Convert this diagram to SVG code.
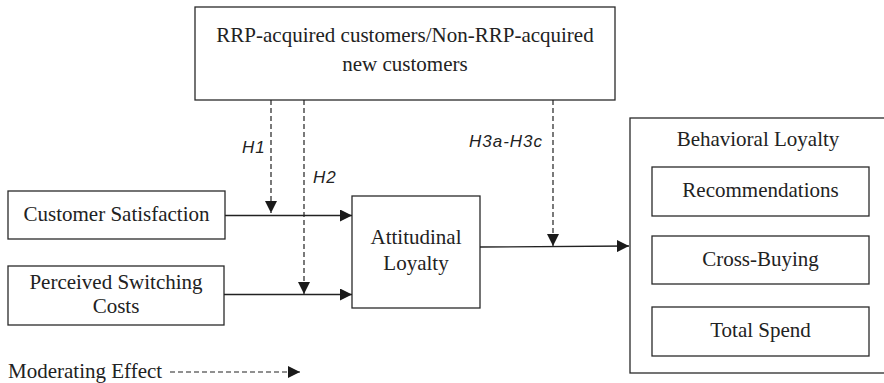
<svg xmlns="http://www.w3.org/2000/svg" width="884" height="383" viewBox="0 0 884 383">
<style>
.box{fill:#fff;stroke:#2a2a2a;stroke-width:1.3}
.t{font-family:"Liberation Serif","Times New Roman",serif;font-size:21px;fill:#222;text-anchor:middle}
.h{font-family:"Liberation Sans",Arial,sans-serif;font-style:italic;font-size:17px;letter-spacing:1px;fill:#222}
.ln{stroke:#222;stroke-width:1.3;fill:none}
.dash{stroke:#222;stroke-width:1.2;fill:none;stroke-dasharray:5 3}
</style>
<defs>
<marker id="ah" viewBox="0 0 12 12" refX="12" refY="6" markerWidth="12" markerHeight="12" markerUnits="userSpaceOnUse" orient="auto">
<path d="M0,0 L12,6 L0,12 Z" fill="#1a1a1a"/>
</marker>
</defs>
<rect width="884" height="383" fill="#fff"/>
<g id="moderator">
<rect class="box" x="195" y="7" width="420" height="93"/>
<text class="t" x="405" y="42">RRP-acquired customers/Non-RRP-acquired</text>
<text class="t" x="405" y="71">new customers</text>
</g>
<g id="satisfaction">
<rect class="box" x="8" y="191" width="217" height="48"/>
<text class="t" x="116.5" y="221">Customer Satisfaction</text>
</g>
<g id="switching">
<rect class="box" x="8" y="266" width="216" height="59"/>
<text class="t" x="116" y="289">Perceived Switching</text>
<text class="t" x="116" y="313">Costs</text>
</g>
<g id="attitudinal">
<rect class="box" x="352" y="196" width="128" height="112"/>
<text class="t" x="416" y="244">Attitudinal</text>
<text class="t" x="416" y="270">Loyalty</text>
</g>
<g id="behavioral">
<rect class="box" x="630" y="118" width="270" height="255"/>
<text class="t" x="758" y="146">Behavioral Loyalty</text>
<g id="recommendations">
<rect class="box" x="652" y="167" width="217" height="49"/>
<text class="t" x="760.5" y="197">Recommendations</text>
</g>
<g id="crossbuying">
<rect class="box" x="652" y="236" width="217" height="48"/>
<text class="t" x="760.5" y="266">Cross-Buying</text>
</g>
<g id="totalspend">
<rect class="box" x="652" y="307" width="217" height="49"/>
<text class="t" x="760.5" y="337">Total Spend</text>
</g>
</g>
<g id="connectors">
<line class="ln" x1="225" y1="215.5" x2="352" y2="215.5" marker-end="url(#ah)"/>
<line class="ln" x1="224" y1="294.5" x2="352" y2="294.5" marker-end="url(#ah)"/>
<line class="ln" x1="480" y1="247" x2="629" y2="246" marker-end="url(#ah)"/>
<line class="dash" x1="271" y1="100" x2="271" y2="213" marker-end="url(#ah)" stroke="#555"/>
<line class="dash" x1="304" y1="100" x2="304" y2="294" marker-end="url(#ah)"/>
<line class="dash" x1="553" y1="100" x2="553" y2="246" marker-end="url(#ah)"/>
<line class="dash" x1="170" y1="372" x2="300" y2="372" marker-end="url(#ah)"/>
</g>
<g id="labels">
<text class="h" x="242" y="153">H1</text>
<text class="h" x="313" y="183">H2</text>
<text class="h" x="469" y="147">H3a-H3c</text>
<text class="t" x="8" y="378" style="text-anchor:start">Moderating Effect</text>
</g>
</svg>
